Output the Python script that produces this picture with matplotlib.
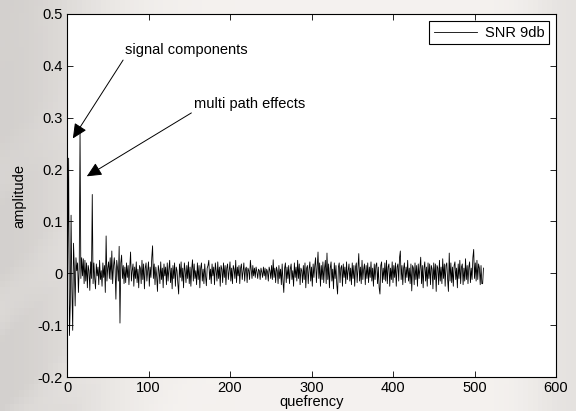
import numpy as np
import matplotlib
matplotlib.use("Agg")
import matplotlib.pyplot as plt

plt.rcParams['font.family'] = ['Liberation Sans', 'DejaVu Sans']

# cepstrum amplitude (quefrency 0..511)
amp_start = [
    -.160, .050, .222, -.120, -.060, .112, -.030, -.110, .058, .010,
    -.063, .030, .005, .020, -.037, .010, .278, -.010, .030, -.005,
    .028, -.020, .025, -.015, .020, -.028, .015, .005, -.033, .022,
    -.010, .152, -.020, .020, -.010, -.030, .018, -.005, .012, -.022,
    .025, -.012, .005, -.025, .020, -.008, .015, -.037, .072, -.015,
    .010, .022, -.010, .030, -.012, .043, -.020, .012, .030, .008,
    -.050, .025, .010, -.015, .052, -.096, .020, .035, -.010, .015,
    -.020,
]
amp_noise = [
    .012, -.018, .020, -.008, .015, -.022, .010, .041, -.015, .005, .018, -.025, .012, -.010, .022, -.018, .008, -.028, .015, .010,
    -.020, .025, -.012, .018, -.030, .010, .020, -.015, .005, .022, -.025, .012, -.008, .030, .053, -.010, .018, -.022, .012, -.005,
    -.035, .015, .005, -.020, .022, -.012, .010, -.028, .018, -.005, .012, -.022, .020, -.015, .008, .025, -.018, .010, -.030, .015,
    -.010, .020, -.025, .012, .005, -.020, -.040, .018, -.008, .022, -.015, .010, -.028, .020, .005, -.018, .015, -.010, .022, -.020,
    .012, -.025, .008, .026, -.015, .018, -.010, .005, -.022, .020, -.012, .015, -.028, .010, .020, -.015, .008, -.020, .018, -.005,
    -.024, .010, .015, .025, -.012, .008, -.020, .018, -.005, .012, -.022, .020, .005, -.015, .022, -.010, .012, -.025, .015, .008,
    -.018, .020, -.008, .015, -.022, .010, .018, -.012, .005, .022, -.015, .010, -.020, .015, .008, -.010, .025, -.018, .012, -.005,
    .015, -.020, .010, .018, -.012, .005, .020, -.015, .008, .012, -.018, .010, .005, -.012, .025, .008, -.010, .015, -.005, .010,
    -.008, .012, .003, -.010, .008, .005, -.012, .010, .002, -.008, .012, -.005, .010, -.012, .008, .003, -.015, .012, .005, -.010,
    .015, -.012, .026, -.008, .010, -.018, .012, .005, -.020, .015, -.010, .008, -.022, .018, -.015, -.037, .010, .020, -.018, .012,
    -.010, .015, -.020, .008, .018, -.012, .005, -.025, .020, -.008, .012, -.015, .025, -.010, .018, -.022, .010, .005, -.018, .015,
    -.012, .020, -.028, .010, .015, -.020, .008, .022, -.015, .012, -.025, .018, -.008, .015, .030, -.018, .012, .041, -.010, .020,
    -.025, .015, -.012, .022, -.018, .010, .025, -.020, .039, -.012, .018, -.028, .010, .022, -.015, .008, -.030, .020, -.010, .015,
    -.022, -.040, .012, .020, -.018, .010, .015, -.025, .018, -.008, .012, -.020, .022, -.012, .005, .018, -.015, .010, -.022, .020,
    -.010, .015, -.025, .012, .020, -.018, .010, .038, -.015, .012, -.020, .025, -.012, .008, .018, -.022, .015, -.010, .020, -.018,
    .012, -.008, .022, -.015, .010, -.025, .018, -.012, .015, .020, -.020, .012, -.028, -.040, .015, .022, -.018, .010, -.012, .020,
    -.015, .025, -.020, .012, .018, -.025, .010, -.012, .022, -.018, .015, -.008, .020, -.025, .012, .018, -.015, .030, .043, -.012,
    .015, -.022, .010, .020, -.018, .012, -.008, .025, -.015, .010, -.020, .018, -.034, .015, .010, -.022, .020, -.012, .015, -.025,
    .018, -.010, .012, .031, -.020, .015, -.028, .010, .022, -.015, .012, -.025, .020, -.010, .018, -.022, .015, .008, -.030, .020,
    -.012, .018, -.035, .015, .010, -.022, .025, -.015, .012, -.020, .028, -.010, .018, -.025, .015, .020, -.012, -.035, .039, -.015,
    .020, -.018, .012, -.025, .015, .022, -.012, .010, -.028, .018, -.010, .025, -.020, .012, .018, -.022, .010, -.015, .028, -.012,
    .015, -.020, .012, .022, -.018, .010, -.012, .030, .046, -.010, .020, -.015, .025, -.012, .018, .010, -.022, .015, -.020, -.020, .010,
]
amplitude = np.array(amp_start + amp_noise)
quefrency = np.arange(len(amplitude))

x_ticks = [0, 100, 200, 300, 400, 500, 600]
y_ticks = [-0.2, -0.1, 0, 0.1, 0.2, 0.3, 0.4, 0.5]
y_tick_labels = ['-0.2', '-0.1', '0', '0.1', '0.2', '0.3', '0.4', '0.5']

FS = 10.5

fig = plt.figure(figsize=(5.76, 4.11), dpi=100)

# faded background behind the chart
bg = fig.add_axes([0, 0, 1, 1], zorder=-10)
h, w = 60, 120
xx = np.linspace(0, 1, w)[None, :]
yy = np.linspace(0, 1, h)[:, None]
base = 0.95 - 0.13 * np.exp(-((xx - 0.0) / 0.18) ** 2) - 0.06 * np.exp(-((xx - 1.0) / 0.08) ** 2)
stripes = 0.04 * np.clip(np.sin((xx * 8 + yy * 6) * np.pi), 0, 1) * np.exp(-xx / 0.15) * yy
lum = np.clip(base + stripes, 0, 1)
img = np.dstack([lum + 0.01, lum - 0.002, lum - 0.012])
bg.imshow(np.clip(img, 0, 1), aspect='auto', extent=[0, 1, 0, 1], origin='upper')
bg.axis('off')

ax = fig.add_axes([67 / 576, 1 - 377 / 411, (556 - 67) / 576, (377 - 14) / 411])
ax.plot(quefrency, amplitude, color='black', lw=0.6, label='SNR 9db')
ax.set_xlim(0, 600)
ax.set_ylim(-0.2, 0.5)
ax.set_xticks(x_ticks)
ax.set_yticks(y_ticks)
ax.set_yticklabels(y_tick_labels)
ax.tick_params(direction='in', top=True, right=True, length=4, width=0.6,
               labelsize=FS, pad=3)
for s in ax.spines.values():
    s.set_linewidth(0.8)
ax.set_xlabel('quefrency', fontsize=FS, labelpad=0)
ax.set_ylabel('amplitude', fontsize=FS, labelpad=8)

leg = ax.legend(loc='upper right', fontsize=FS, frameon=True, fancybox=False,
                edgecolor='black', framealpha=1, handlelength=3.0,
                handletextpad=0.5, borderaxespad=0.5, borderpad=0.3)
leg.get_frame().set_linewidth(0.8)

arrow = dict(arrowstyle='-|>,head_length=0.85,head_width=0.4', color='black',
             lw=0.7, shrinkA=0, shrinkB=0, relpos=(0, 0))
ax.annotate('signal components', xy=(7.2, 0.26), xytext=(71, 0.43),
            fontsize=FS, ha='left', va='center', arrowprops=arrow)
ax.annotate('multi path effects', xy=(24.3, 0.187), xytext=(156, 0.326),
            fontsize=FS, ha='left', va='center', arrowprops=arrow)

fig.savefig('out.png', dpi=100)
